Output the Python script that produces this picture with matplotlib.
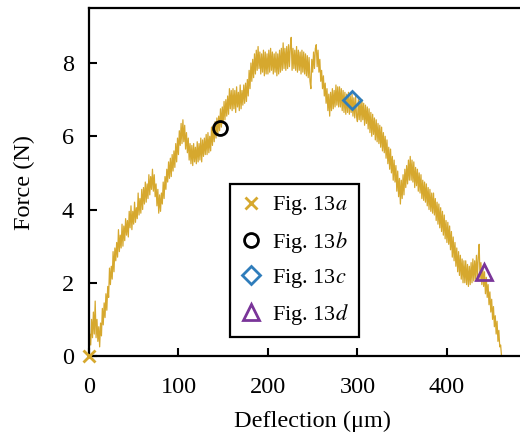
import numpy as np
import matplotlib
matplotlib.use("Agg")
import matplotlib.pyplot as plt

plt.rcParams['font.family'] = ['Liberation Serif', 'DejaVu Serif']
plt.rcParams['mathtext.fontset'] = 'stix'

# force-deflection record, read every 1 um off the figure (noisy trace)
deflection = np.arange(0, 462)
force = [
    0.0, 0.6, 0.3, 1.0, 0.5, 1.2, 0.6, 1.5, 0.5, 1.0, 0.4, 0.8, 0.25, 0.9, 0.55, 1.3, 0.85, 1.45, 1.05, 1.7,
    1.25, 1.9, 1.6, 2.4, 1.95, 2.45, 2.1, 2.85, 2.3, 2.95, 2.6, 3.1, 2.7, 3.45, 2.85, 3.3, 2.95, 3.6, 3.0, 3.55,
    3.15, 3.75, 3.3, 3.7, 3.25, 3.95, 3.5, 4.1, 3.45, 3.95, 3.6, 4.2, 3.65, 4.05, 3.75, 4.45, 3.85, 4.3, 3.9, 4.55,
    4.0, 4.6, 4.15, 4.75, 4.2, 4.7, 4.3, 4.95, 4.4, 4.9, 4.55, 5.1, 4.5, 4.95, 4.35, 4.7, 4.1, 4.55, 3.9, 4.4,
    3.95, 4.45, 4.15, 4.75, 4.3, 4.9, 4.55, 5.1, 4.75, 5.3, 4.85, 5.4, 4.9, 5.5, 5.05, 5.6, 5.15, 5.8, 5.3, 5.95,
    5.5, 6.15, 5.75, 6.35, 5.8, 6.45, 5.85, 6.3, 5.65, 6.1, 5.55, 5.95, 5.35, 5.8, 5.25, 5.75, 5.2, 5.8, 5.3, 5.7,
    5.25, 5.85, 5.3, 5.8, 5.35, 5.95, 5.3, 5.9, 5.45, 5.95, 5.5, 6.05, 5.5, 6.1, 5.55, 6.0, 5.6, 6.25, 5.75, 6.3,
    5.85, 6.4, 5.95, 6.5, 6.05, 6.55, 6.15, 6.75, 6.25, 6.8, 6.35, 6.95, 6.45, 7.0, 6.55, 7.1, 6.6, 7.3, 6.75, 7.25,
    6.7, 7.3, 6.75, 7.25, 6.65, 7.35, 6.8, 7.2, 6.7, 7.4, 6.75, 7.25, 6.85, 7.4, 6.9, 7.45, 6.95, 7.55, 7.1, 7.8,
    7.3, 8.0, 7.5, 8.1, 7.6, 8.25, 7.7, 8.35, 7.8, 8.45, 7.85, 8.3, 7.7, 8.25, 7.75, 8.35, 7.65, 8.3, 7.7, 8.25,
    7.7, 8.35, 7.75, 8.4, 7.8, 8.3, 7.7, 8.25, 7.75, 8.3, 7.65, 8.25, 7.7, 8.35, 7.75, 8.4, 7.8, 8.55, 7.85, 8.4,
    7.8, 8.45, 7.85, 8.5, 7.9, 8.45, 8.7, 7.8, 8.4, 7.85, 8.35, 7.8, 8.45, 7.75, 8.35, 7.8, 8.3, 7.7, 8.35, 7.75,
    8.3, 7.7, 8.25, 7.65, 8.2, 7.6, 8.15, 7.5, 7.3, 8.1, 7.75, 8.3, 7.85, 8.4, 8.5, 7.9, 8.35, 7.75, 8.1, 7.5,
    7.8, 7.3, 7.65, 7.1, 7.45, 6.9, 7.3, 6.7, 7.15, 6.55, 7.2, 6.7, 7.3, 6.75, 7.25, 6.8, 7.4, 6.85, 7.35, 6.8,
    7.35, 6.8, 7.3, 6.7, 7.25, 6.65, 7.2, 6.6, 7.15, 6.65, 7.2, 6.6, 7.1, 6.65, 7.15, 6.55, 7.05, 6.5, 7.1, 6.55,
    6.4, 7.0, 6.45, 6.95, 6.4, 7.0, 6.45, 6.9, 6.3, 6.85, 6.35, 6.8, 6.2, 6.75, 6.1, 6.65, 6.0, 6.6, 6.05, 6.5,
    5.9, 6.45, 5.85, 6.35, 5.8, 6.3, 5.7, 6.25, 5.6, 6.1, 5.55, 6.0, 5.4, 5.9, 5.25, 5.7, 5.1, 5.65, 5.0, 5.45,
    4.8, 5.35, 4.75, 5.2, 4.5, 5.05, 4.35, 4.85, 4.15, 4.8, 4.3, 4.95, 4.4, 5.1, 4.6, 5.2, 4.7, 5.35, 4.8, 5.45,
    4.8, 5.35, 4.75, 5.3, 4.6, 5.15, 4.65, 5.1, 4.5, 5.0, 4.45, 4.95, 4.3, 4.8, 4.25, 4.75, 4.2, 4.7, 4.1, 4.6,
    4.0, 4.55, 3.95, 4.45, 3.9, 4.45, 3.85, 4.3, 3.7, 4.2, 3.6, 4.15, 3.5, 4.05, 3.4, 3.95, 3.3, 3.85, 3.2, 3.7,
    3.1, 3.65, 3.05, 3.55, 2.9, 3.4, 2.7, 3.25, 2.6, 3.1, 2.45, 2.95, 2.3, 2.85, 2.2, 2.75, 2.1, 2.65, 2.0, 2.6,
    2.0, 2.6, 1.95, 2.5, 1.9, 2.45, 1.95, 2.55, 2.0, 2.65, 2.05, 2.6, 2.1, 2.75, 2.15, 2.7, 3.05, 2.1, 2.55, 1.95,
    2.45, 1.9, 2.3, 1.7, 2.15, 1.6, 1.95, 1.4, 1.75, 1.2, 1.55, 1.0, 1.35, 0.8, 1.1, 0.6, 0.95, 0.4, 0.7, 0.25,
    0.3, 0.0,
]

# the four states shown in Fig. 13
mark_labels = ['Fig. 13$a$', 'Fig. 13$b$', 'Fig. 13$c$', 'Fig. 13$d$']
mark_x = [0, 147, 294, 441]
mark_y = [0.0, 6.22, 7.0, 2.3]

gold = '#D6A82E'

fig = plt.figure(figsize=(5.2, 4.41), dpi=100)
ax = fig.add_axes([0.171, 0.1927, 0.8606, 0.789])

ax.plot(deflection, force, color=gold, lw=0.9, zorder=2)

ax.plot(mark_x[0], mark_y[0], 'x', color=gold, ms=9, mew=2,
        clip_on=False, zorder=4, label=mark_labels[0])
ax.plot(mark_x[1], mark_y[1], 'o', mfc='none', mec='black', ms=10, mew=2,
        zorder=4, label=mark_labels[1])
ax.plot(mark_x[2], mark_y[2], 'D', mfc='none', mec='#2F7DBB', ms=9, mew=2,
        zorder=4, label=mark_labels[2])
ax.plot(mark_x[3], mark_y[3], '^', mfc='none', mec='#7A3599', ms=11, mew=2,
        zorder=4, label=mark_labels[3])

ax.set_xlim(0, 500)
ax.set_ylim(0, 9.5)
ax.set_xticks([0, 100, 200, 300, 400])
ax.set_yticks([0, 2, 4, 6, 8])
ax.tick_params(direction='in', length=6, width=1.5, labelsize=17.5)
ax.tick_params(axis='x', pad=15)
ax.tick_params(axis='y', pad=11)
for s in ax.spines.values():
    s.set_linewidth(1.6)

ax.set_xlabel('Deflection (\u03bcm)', fontsize=17.5, labelpad=9)
ax.set_ylabel('Force (N)', fontsize=17.5, labelpad=19)

leg = ax.legend(loc='lower left', bbox_to_anchor=(0.315, 0.0546),
                fontsize=16, frameon=True, fancybox=False, framealpha=1,
                edgecolor='black', handlelength=1.0, handletextpad=0.45,
                labelspacing=0.55, borderpad=0.45, borderaxespad=0)
leg.get_frame().set_linewidth(1.6)

fig.savefig('out.png', dpi=100)
